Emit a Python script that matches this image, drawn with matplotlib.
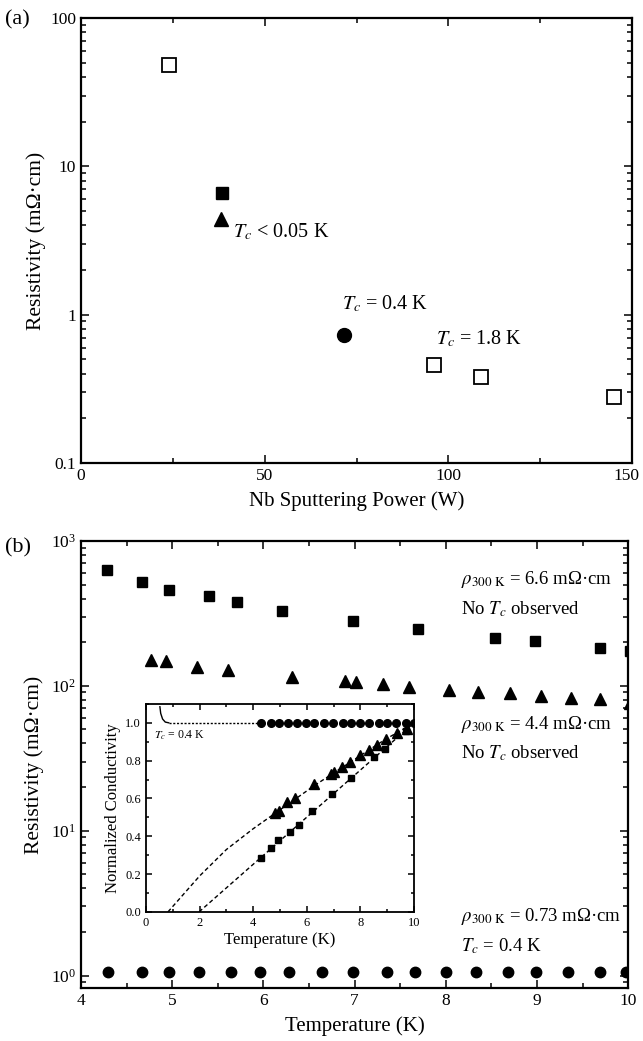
import matplotlib
matplotlib.use("Agg")
import matplotlib.pyplot as plt
import matplotlib.transforms as mtrans
from matplotlib.ticker import MultipleLocator, LogLocator, NullFormatter, FormatStrFormatter

plt.rcParams['font.family'] = ['Liberation Serif', 'DejaVu Serif']
plt.rcParams['mathtext.fontset'] = 'stix'

##### panel (a): resistivity vs Nb sputtering power
pw_open = [24.0, 96.0, 109.0, 145.2]
rho_open = [48.5, 0.46, 0.38, 0.28]
pw_sq, rho_sq = [38.3], [6.6]
pw_tri, rho_tri = [38.0], [4.4]
pw_circ, rho_circ = [71.5], [0.73]
pw_ticks = [0, 50, 100, 150]

##### panel (b): resistivity vs temperature
T_sq = [4.28, 4.67, 4.96, 5.40, 5.71, 6.20, 6.98, 7.69, 8.54, 8.98, 9.69, 10.02]
rho_b_sq = [627, 520, 462, 414, 382, 331, 279, 246, 213, 203, 182, 175]
T_tri = [4.77, 4.93, 5.27, 5.61, 6.31, 6.89, 7.01, 7.31, 7.60, 8.04, 8.35, 8.70,
         9.04, 9.37, 9.69, 10.02]
rho_b_tri = [151, 149, 136, 129, 115, 108, 107, 103, 98.5, 93.3, 91.4, 89,
             85.7, 82.6, 80.9, 76.7]
T_circ = [4.30, 4.67, 4.96, 5.29, 5.65, 5.96, 6.28, 6.64, 6.98, 7.36, 7.66, 8.00,
          8.33, 8.68, 8.99, 9.34, 9.69, 9.98]
rho_b_circ = [1.05] * 18

##### inset: normalized conductivity
Ti_sq = [4.28, 4.65, 4.94, 5.37, 5.71, 6.18, 6.95, 7.64, 8.51, 8.92, 9.70]
sig_sq = [0.286, 0.339, 0.379, 0.423, 0.462, 0.532, 0.626, 0.709, 0.820, 0.859, 0.955]
Ti_tri = [4.81, 4.98, 5.25, 5.56, 6.28, 6.90, 7.03, 7.30, 7.61, 7.99, 8.30, 8.63,
          8.94, 9.35, 9.72]
sig_tri = [0.524, 0.533, 0.580, 0.603, 0.674, 0.730, 0.739, 0.767, 0.792, 0.829,
           0.857, 0.885, 0.914, 0.944, 0.966]
Ti_circ = T_circ
sig_circ = [1.0] * 18
# dashed guide lines
fit_tri_T = [0.82, 2.0, 3.0, 4.0, 4.8, 6.3, 7.6, 8.9, 10.0]
fit_tri_s = [0.0, 0.19, 0.33, 0.44, 0.52, 0.67, 0.79, 0.91, 1.0]
fit_sq_T = [1.98, 10.0]
fit_sq_s = [0.0, 1.0]
drop_T = [0.52, 0.55, 0.62, 0.72, 0.85]
drop_s = [1.085, 1.05, 1.02, 1.004, 1.0]
flat_T = [0.85, 4.3]
flat_s = [1.0, 1.0]

OHM = '\u03a9\u00b7cm'


def style(ax, fs=12.5):
    ax.tick_params(which='both', direction='in', top=True, right=True,
                   labelsize=fs, width=1.1)
    ax.tick_params(which='major', length=6)
    ax.tick_params(which='minor', length=3.5)
    for s in ax.spines.values():
        s.set_linewidth(1.6)


fig = plt.figure(figsize=(6.43, 10.41), dpi=100)

# ---------------- (a)
ax1 = fig.add_axes([0.126, 0.5552, 0.857, 0.4275])
ax1.set_yscale('log')
ax1.plot(pw_open, rho_open, 's', ms=10, mfc='white', mec='black', mew=1.3, ls='none')
ax1.plot(pw_sq, rho_sq, 's', ms=9, color='black', ls='none')
ax1.plot(pw_tri, rho_tri, '^', ms=10.5, color='black', ls='none')
ax1.plot(pw_circ, rho_circ, 'o', ms=10, color='black', ls='none')
ax1.set_xlim(0, 150)
ax1.set_ylim(0.1, 100)
ax1.set_xticks(pw_ticks)
ax1.set_xticklabels([str(v) for v in pw_ticks])
ax1.xaxis.set_minor_locator(MultipleLocator(25))
ax1.yaxis.set_minor_locator(LogLocator(base=10, subs=range(2, 10)))
ax1.yaxis.set_minor_formatter(NullFormatter())
ax1.set_yticks([0.1, 1, 10, 100])
ax1.set_yticklabels(['0.1', '1', '10', '100'])
style(ax1)
# keep the last label inside the canvas
last = ax1.get_xticklabels()[-1]
last.set_transform(last.get_transform() +
                   mtrans.ScaledTranslation(-4 / 72, 0, fig.dpi_scale_trans))
ax1.set_xlabel('Nb Sputtering Power (W)', fontsize=15, labelpad=5)
ax1.set_ylabel('Resistivity (m' + OHM + ')', fontsize=15.5, labelpad=3)
ax1.text(41.5, 3.3, r'$T_c$ < 0.05 K', fontsize=14.5)
ax1.text(71.0, 1.08, r'$T_c$ = 0.4 K', fontsize=14.5)
ax1.text(96.5, 0.636, r'$T_c$ = 1.8 K', fontsize=14.5)
fig.text(0.008, 0.990, '(a)', fontsize=16, va='top')

# ---------------- (b)
ax2 = fig.add_axes([0.126, 0.0509, 0.851, 0.4294])
ax2.set_yscale('log')
ax2.plot(T_sq, rho_b_sq, 's', ms=6.5, color='black', ls='none')
ax2.plot(T_tri, rho_b_tri, '^', ms=8, color='black', ls='none')
ax2.plot(T_circ, rho_b_circ, 'o', ms=7.5, color='black', ls='none')
ax2.set_xlim(4, 10)
ax2.set_ylim(0.82, 1000)
ax2.xaxis.set_major_locator(MultipleLocator(1))
ax2.xaxis.set_minor_locator(MultipleLocator(0.5))
ax2.yaxis.set_major_locator(LogLocator(base=10))
ax2.yaxis.set_minor_locator(LogLocator(base=10, subs=range(2, 10)))
ax2.yaxis.set_minor_formatter(NullFormatter())
style(ax2)
ax2.set_xlabel('Temperature (K)', fontsize=15, labelpad=5)
ax2.set_ylabel('Resistivity (m' + OHM + ')', fontsize=15.5, labelpad=5)
tx = 8.17
rho300 = r'$\rho_{300\ \mathrm{K}}$'
ax2.text(tx, 506, rho300 + ' = 6.6 m' + OHM, fontsize=13.5)
ax2.text(tx, 310, r'No $T_c$ observed', fontsize=13.5)
ax2.text(tx, 50.1, rho300 + ' = 4.4 m' + OHM, fontsize=13.5)
ax2.text(tx, 31.5, r'No $T_c$ observed', fontsize=13.5)
ax2.text(tx, 2.39, rho300 + ' = 0.73 m' + OHM, fontsize=13.5)
ax2.text(tx, 1.48, r'$T_c$ = 0.4 K', fontsize=13.5)
fig.text(0.008, 0.483, '(b)', fontsize=16, va='top')

# ---------------- inset
ax3 = fig.add_axes([0.227, 0.124, 0.417, 0.1998])
ax3.plot(fit_tri_T, fit_tri_s, color='black', lw=1.0, ls=(0, (3, 2)))
ax3.plot(fit_sq_T, fit_sq_s, color='black', lw=1.0, ls=(0, (3, 2)))
ax3.plot(drop_T, drop_s, color='black', lw=1.0)
ax3.plot(flat_T, flat_s, color='black', lw=1.0, ls=(0, (1.5, 1.2)))
ax3.plot(Ti_circ, sig_circ, 'o', ms=5.5, color='black', ls='none')
ax3.plot(Ti_tri, sig_tri, '^', ms=6.5, color='black', ls='none')
ax3.plot(Ti_sq, sig_sq, 's', ms=5, color='black', ls='none')
ax3.set_xlim(0, 10)
ax3.set_ylim(0, 1.1)
ax3.xaxis.set_major_locator(MultipleLocator(2))
ax3.xaxis.set_minor_locator(MultipleLocator(1))
ax3.yaxis.set_major_locator(MultipleLocator(0.2))
ax3.yaxis.set_minor_locator(MultipleLocator(0.1))
ax3.yaxis.set_major_formatter(FormatStrFormatter('%.1f'))
style(ax3, fs=9)
ax3.tick_params(which='major', length=4)
ax3.tick_params(which='minor', length=2)
for s in ax3.spines.values():
    s.set_linewidth(1.3)
ax3.set_xlabel('Temperature (K)', fontsize=12, labelpad=2)
ax3.set_ylabel('Normalized Conductivity', fontsize=12, labelpad=3)
ax3.text(0.3, 0.915, r'$T_c$ = 0.4 K', fontsize=8.5)

fig.savefig('out.png', dpi=100)
